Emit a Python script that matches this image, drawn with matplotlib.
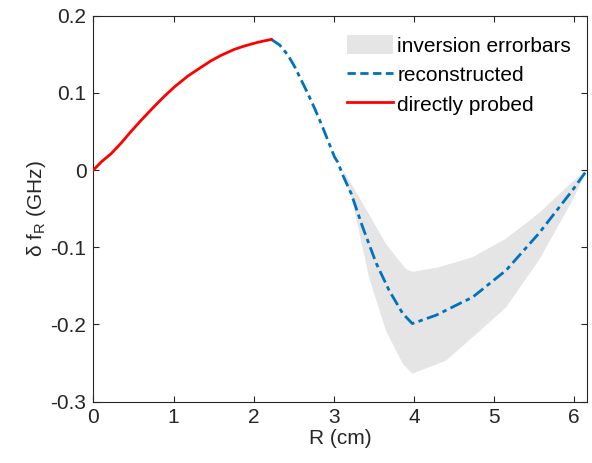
import matplotlib
matplotlib.use("Agg")
import matplotlib.pyplot as plt
from matplotlib.patches import Patch
from matplotlib.lines import Line2D

plt.rcParams['font.family'] = ['Liberation Sans', 'DejaVu Sans']
plt.rcParams['mathtext.fontset'] = 'custom'
plt.rcParams['mathtext.rm'] = 'Liberation Sans'

# directly probed (red)
probed_x = [0.0, 0.098, 0.223, 0.348, 0.472, 0.597, 0.763, 0.888, 1.012, 1.178,
            1.303, 1.468, 1.593, 1.760, 1.884, 2.050, 2.220]
probed_y = [0.0, 0.0105, 0.0214, 0.0352, 0.0503, 0.0646, 0.0828, 0.0958, 0.1078,
            0.1217, 0.1304, 0.1416, 0.1486, 0.1564, 0.1607, 0.1655, 0.1693]

# reconstructed (blue dash-dot)
recon_x = [2.220, 2.324, 2.427, 2.511, 2.594, 2.676, 2.760, 2.843, 2.925, 3.008,
           3.050, 3.112, 3.217, 3.36, 3.53, 3.69, 3.86, 3.98, 4.28, 4.57, 4.73,
           5.15, 5.56, 5.98, 6.16]
recon_y = [0.1693, 0.162, 0.149, 0.134, 0.1165, 0.099, 0.080, 0.060, 0.0387,
           0.017, 0.010, -0.0067, -0.0305, -0.074, -0.121, -0.156, -0.186,
           -0.199, -0.188, -0.173, -0.165, -0.130, -0.082, -0.026, 0.0]

# inversion errorbars (band)
band_up_x = [3.10, 3.24, 3.36, 3.53, 3.66, 3.78, 3.90, 3.98, 4.31, 4.57, 4.73,
             5.15, 5.56, 5.98, 6.16]
band_up_y = [0.003, -0.022, -0.043, -0.074, -0.097, -0.113, -0.128, -0.132,
             -0.126, -0.118, -0.113, -0.089, -0.056, -0.015, 0.0]
band_lo_x = [3.10, 3.22, 3.32, 3.44, 3.65, 3.86, 3.98, 4.40, 4.73, 5.15, 5.56,
             5.77, 5.98, 6.16]
band_lo_y = [0.003, -0.035, -0.082, -0.139, -0.208, -0.251, -0.264, -0.247,
             -0.217, -0.178, -0.117, -0.078, -0.039, 0.0]

x_ticks = [0, 1, 2, 3, 4, 5, 6]
y_ticks = [-0.3, -0.2, -0.1, 0, 0.1, 0.2]
y_ticklabels = ['-0.3', '-0.2', '-0.1', '0', '0.1', '0.2']

blue = (0.0, 0.447, 0.741)
gray = (0.898, 0.898, 0.898)
axcol = (0.15, 0.15, 0.15)
fs = 15

fig = plt.figure(figsize=(5.92, 4.63), dpi=100)
ax = fig.add_axes([0.1578, 0.1328, 0.9916 - 0.1578, 0.9661 - 0.1328])

poly_x = list(band_up_x) + list(band_lo_x[::-1])
poly_y = list(band_up_y) + list(band_lo_y[::-1])
ax.fill(poly_x, poly_y, color=gray, lw=0, zorder=1)
ax.plot(recon_x, recon_y, color=blue, lw=2.0, dashes=(4.5, 1.6, 1.6, 1.6), zorder=3)
ax.plot(probed_x, probed_y, color='red', lw=2.0, zorder=3)

ax.set_xlim(0, 6.16)
ax.set_ylim(-0.3, 0.2)
ax.set_xticks(x_ticks)
ax.set_yticks(y_ticks)
ax.set_yticklabels(y_ticklabels)
ax.tick_params(direction='in', top=True, right=True, length=4, width=0.8,
               colors=axcol, labelsize=fs, labelcolor=axcol, pad=5)
for s in ax.spines.values():
    s.set_color(axcol)
    s.set_linewidth(0.8)

ax.set_xlabel('R (cm)', fontsize=fs, color=axcol, labelpad=1)
ax.set_ylabel(r'δ f$_{\mathrm{R}}$ (GHz)', fontsize=fs, color=axcol, labelpad=2)

handles = [Patch(facecolor=gray, edgecolor='none'),
           Line2D([0], [0], color=blue, lw=2.0, dashes=(3.0, 1.6, 3.0, 1.6)),
           Line2D([0], [0], color='red', lw=2.0)]
labels = ['inversion errorbars', 'reconstructed', 'directly probed']
leg = ax.legend(handles, labels, loc='upper right', frameon=False, fontsize=fs,
                handlelength=2.2, handleheight=1.05, handletextpad=0.2,
                labelspacing=0.42, borderaxespad=0.0, borderpad=0.0,
                bbox_to_anchor=(0.968, 0.95))
for t in leg.get_texts():
    t.set_color('black')

fig.savefig('out.png', dpi=100)
